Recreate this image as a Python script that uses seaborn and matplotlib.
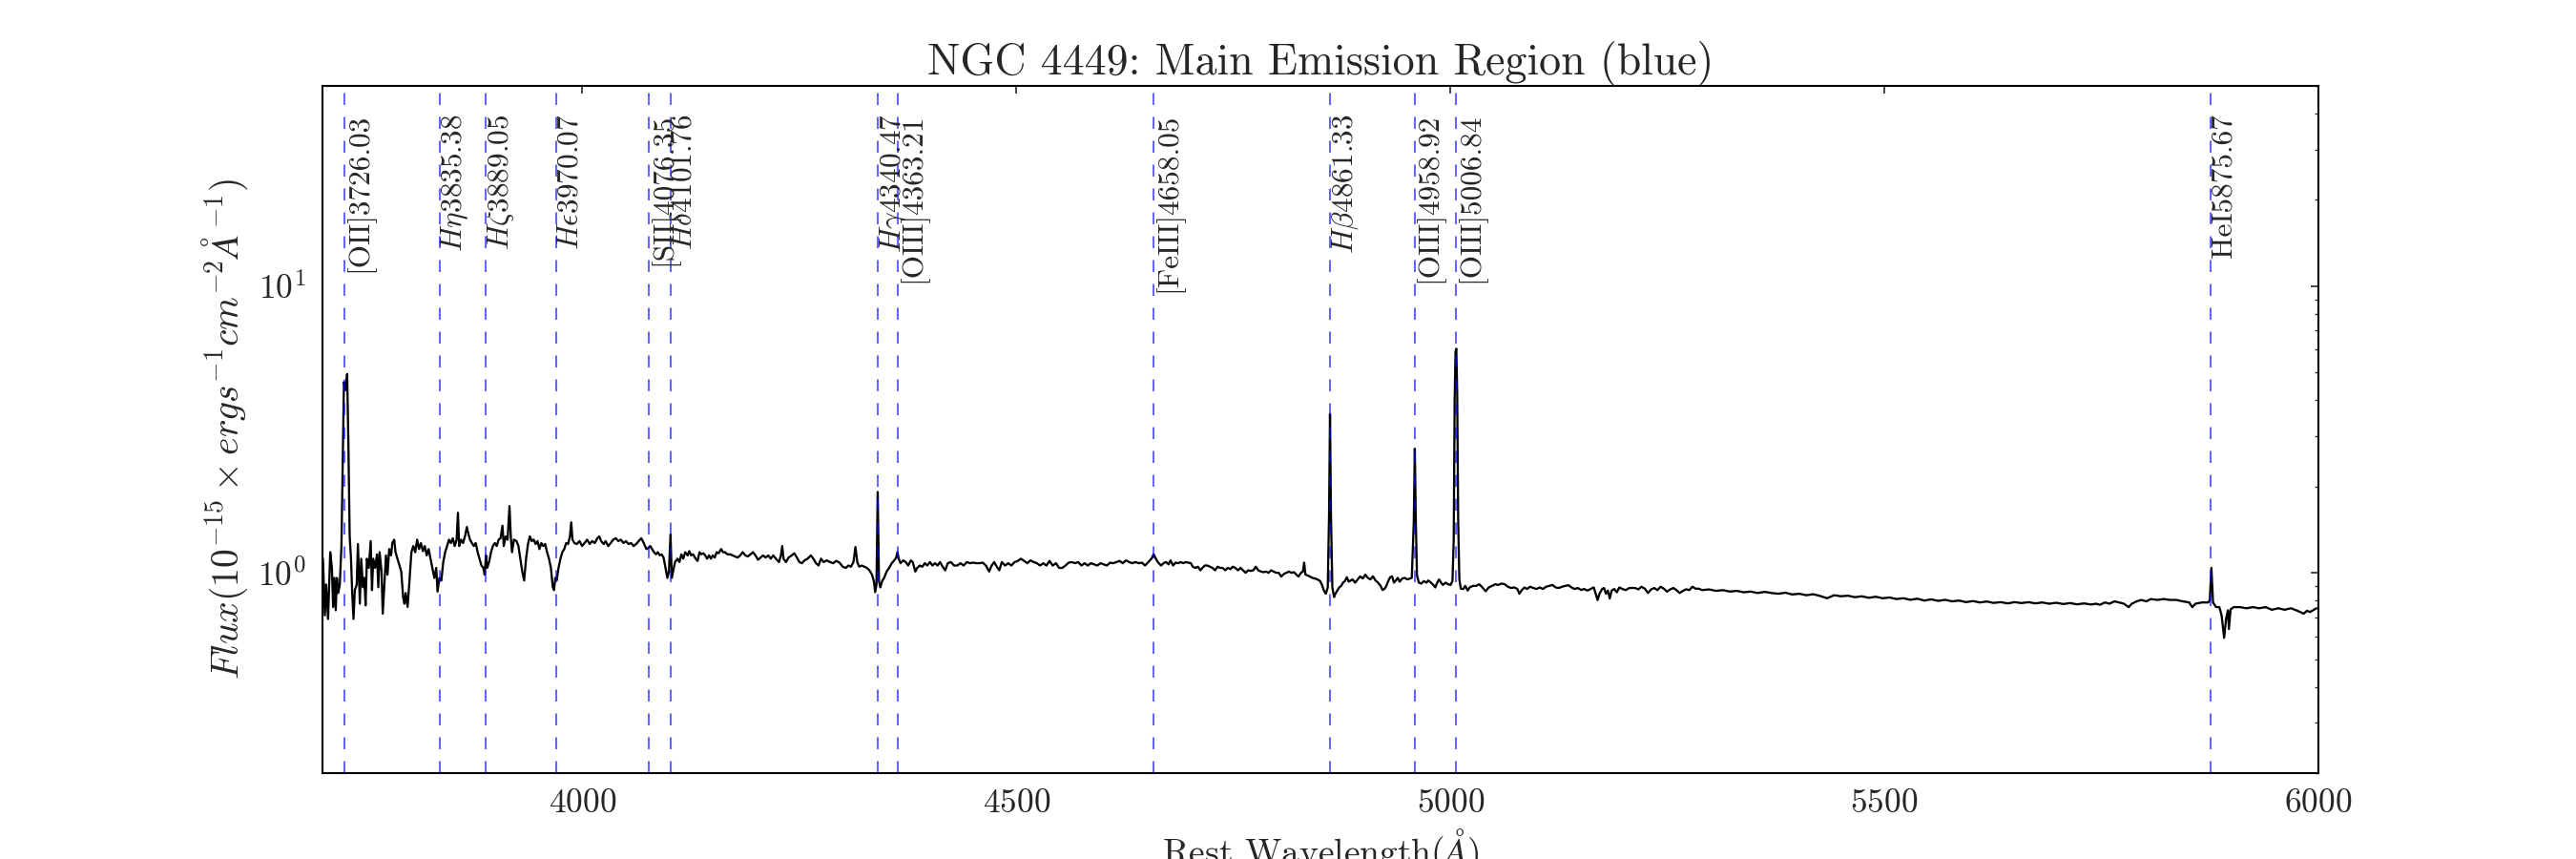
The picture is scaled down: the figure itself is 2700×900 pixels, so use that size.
import numpy as np
import pandas as pd
import matplotlib
matplotlib.use("Agg")
import matplotlib.pyplot as plt
import matplotlib.ticker as mticker
import seaborn as sns

# spectrum, split in pieces (rest wavelength in A, flux in 1e-15 units)
wave_a = [3700.0, 3701.1, 3703.3, 3704.8, 3707.0, 3709.5, 3711.4, 3712.8, 3714.3, 3715.8,
          3717.2, 3718.7, 3720.5, 3722.4, 3724.2, 3725.3, 3727.1, 3729.0, 3730.4, 3731.9,
          3733.4, 3734.8, 3736.3, 3737.8, 3740.0, 3741.4, 3743.6, 3745.1, 3747.3, 3748.8,
          3750.2, 3751.7, 3753.9, 3756.1, 3757.6, 3759.0, 3761.2, 3763.4, 3764.9, 3766.4,
          3768.6, 3770.0, 3772.2, 3773.7, 3775.5, 3777.4, 3779.6, 3781.0, 3783.2, 3784.7,
          3786.9, 3789.1, 3791.3, 3793.5, 3795.0, 3796.4, 3798.6, 3800.8, 3803.0, 3805.2,
          3807.4, 3809.6, 3811.8, 3814.0, 3816.2, 3818.4, 3820.6, 3822.8, 3825.0, 3827.2,
          3829.4, 3831.6, 3833.1, 3835.3, 3837.5, 3839.7, 3841.9, 3844.1, 3846.3, 3848.5,
          3850.7, 3852.9, 3855.1, 3856.6, 3858.0, 3860.2, 3862.5, 3864.7, 3866.9, 3868.3,
          3870.5, 3872.7, 3874.9, 3877.1, 3879.3, 3881.5, 3883.7, 3885.9, 3887.4, 3888.9,
          3890.3, 3892.5, 3894.7, 3896.9, 3899.1, 3901.3, 3903.5, 3905.7, 3907.9, 3909.4,
          3911.6, 3913.8, 3916.0, 3917.5, 3918.9, 3921.1, 3924.1, 3926.3, 3928.5, 3930.7,
          3932.9, 3935.1, 3937.3, 3939.5, 3941.7, 3943.9, 3946.1, 3948.3, 3950.5, 3952.7,
          3954.9, 3957.1, 3959.3, 3961.5, 3963.7, 3965.9, 3967.3, 3968.8, 3970.3, 3972.5,
          3974.7, 3976.9, 3979.1, 3981.3, 3983.5, 3985.7, 3987.1, 3988.6, 3990.8, 3993.7,
          3996.7, 3999.6, 4002.5, 4005.5, 4008.4, 4011.3, 4014.3, 4017.2, 4019.4, 4021.6,
          4024.5, 4026.7, 4029.7, 4032.6, 4035.5, 4038.5, 4041.4, 4044.3, 4047.3, 4050.2,
          4053.1, 4056.1, 4059.0, 4061.9, 4064.9, 4067.8, 4070.7, 4073.7, 4075.9, 4078.1,
          4080.3, 4082.5, 4084.7, 4086.9, 4089.1, 4091.3, 4093.5, 4095.7, 4097.9, 4099.7,
          4101.5, 4103.0, 4104.5, 4106.7, 4109.6, 4111.8, 4114.0, 4116.2, 4118.4, 4121.3]
flux_a = [0.61, 1.12, 0.71, 0.91, 0.69, 1.18, 1.04, 0.76, 0.96, 0.74,
          0.96, 0.85, 0.91, 1.24, 2.81, 4.63, 4.34, 4.94, 2.81, 1.34,
          1.12, 0.85, 0.69, 0.87, 0.91, 1.26, 0.78, 1.12, 0.89, 0.96,
          0.77, 1.12, 1.04, 1.29, 0.87, 1.12, 1.04, 1.16, 0.89, 1.18,
          1.01, 0.72, 0.96, 1.15, 0.985, 1.21, 1.15, 1.27, 1.305, 1.18,
          1.12, 1.06, 1.01, 0.82, 0.78, 0.85, 0.76, 0.94, 1.18, 1.24,
          1.18, 1.305, 1.21, 1.27, 1.19, 1.24, 1.15, 1.21, 1.12, 1.04,
          0.96, 1.04, 0.86, 0.96, 0.94, 1.09, 1.18, 1.24, 1.305, 1.27,
          1.32, 1.24, 1.305, 1.62, 1.24, 1.305, 1.27, 1.34, 1.445, 1.38,
          1.305, 1.27, 1.24, 1.27, 1.18, 1.12, 1.06, 1.04, 0.985, 1.15,
          1.04, 1.09, 1.18, 1.24, 1.27, 1.24, 1.305, 1.32, 1.46, 1.24,
          1.34, 1.305, 1.71, 1.34, 1.18, 1.305, 1.29, 1.24, 1.12, 1.01,
          0.94, 1.12, 1.26, 1.34, 1.29, 1.305, 1.26, 1.29, 1.21, 1.27,
          1.24, 1.26, 1.18, 1.12, 1.04, 0.89, 0.87, 0.96, 0.94, 1.04,
          1.12, 1.18, 1.21, 1.27, 1.26, 1.34, 1.50, 1.305, 1.27, 1.26,
          1.29, 1.24, 1.27, 1.305, 1.26, 1.29, 1.27, 1.32, 1.34, 1.29,
          1.26, 1.29, 1.24, 1.27, 1.305, 1.32, 1.29, 1.305, 1.27, 1.29,
          1.26, 1.27, 1.24, 1.26, 1.29, 1.32, 1.27, 1.21, 1.22, 1.24,
          1.21, 1.18, 1.16, 1.18, 1.15, 1.16, 1.13, 1.04, 0.96, 1.01,
          1.36, 0.96, 1.01, 1.09, 1.12, 1.09, 1.16, 1.12, 1.18, 1.15]

wave_b = [4123.1, 4125.3, 4127.5, 4130.5, 4132.7, 4134.9, 4137.1, 4139.3, 4141.5, 4143.7,
          4145.9, 4148.1, 4150.3, 4152.5, 4154.7, 4156.9, 4159.8, 4162.0, 4164.2, 4167.1,
          4170.1, 4173.0, 4175.9, 4178.9, 4181.8, 4184.7, 4187.7, 4190.6, 4193.5, 4196.5,
          4199.4, 4202.3, 4205.3, 4208.2, 4211.1, 4214.1, 4217.0, 4219.9, 4222.9, 4226.5,
          4228.7, 4230.2, 4231.7, 4234.6, 4237.5, 4241.2, 4244.1, 4247.1, 4250.0, 4252.9,
          4255.9, 4259.5, 4263.2, 4266.1, 4269.1, 4272.0, 4274.9, 4277.9, 4281.5, 4285.2,
          4288.9, 4292.5, 4296.2, 4299.9, 4303.5, 4306.5, 4309.4, 4312.3, 4314.5, 4316.7,
          4318.9, 4321.9, 4324.8, 4327.8, 4330.7, 4333.6, 4335.8, 4337.3, 4338.8, 4340.2,
          4341.7, 4343.2, 4345.4, 4347.6, 4350.5, 4353.4, 4356.4, 4359.3, 4361.5, 4363.0,
          4364.4, 4366.6, 4369.6, 4372.5, 4375.4, 4378.4, 4380.6, 4383.5, 4385.7, 4388.6,
          4391.6, 4394.5, 4397.4, 4400.4, 4403.3, 4406.2, 4409.2, 4412.1, 4415.0, 4418.0,
          4420.9, 4424.6, 4428.2, 4431.9, 4435.6, 4439.2, 4442.9, 4446.6, 4450.2, 4453.9,
          4457.6, 4461.2, 4464.9, 4468.6, 4471.5, 4474.4, 4477.4, 4480.3, 4483.2, 4486.9,
          4490.6, 4494.2, 4497.9, 4501.6, 4505.2, 4508.9, 4512.6, 4516.2, 4519.9, 4523.6,
          4527.2, 4530.9, 4534.6, 4538.2, 4541.9, 4545.6, 4549.2, 4552.9, 4556.6, 4560.2,
          4563.9, 4567.6, 4571.2, 4574.9, 4578.6, 4582.2, 4585.9, 4589.6, 4593.2, 4596.9,
          4600.6, 4604.2, 4607.9, 4611.6, 4615.2, 4618.9, 4622.6, 4626.2, 4629.9, 4633.6,
          4637.2, 4640.9, 4644.6, 4648.2, 4651.9, 4655.6, 4658.1, 4660.7, 4662.9, 4666.6]
flux_b = [1.19, 1.15, 1.16, 1.12, 1.10, 1.18, 1.16, 1.17, 1.15, 1.12,
          1.15, 1.12, 1.15, 1.13, 1.18, 1.17, 1.21, 1.18, 1.18, 1.16,
          1.16, 1.15, 1.14, 1.13, 1.15, 1.18, 1.15, 1.14, 1.16, 1.18,
          1.15, 1.11, 1.13, 1.15, 1.13, 1.15, 1.12, 1.15, 1.12, 1.09,
          1.15, 1.24, 1.12, 1.09, 1.13, 1.15, 1.17, 1.13, 1.09, 1.08,
          1.105, 1.12, 1.15, 1.12, 1.08, 1.06, 1.12, 1.09, 1.105, 1.09,
          1.08, 1.10, 1.085, 1.05, 1.04, 1.06, 1.05, 1.09, 1.23, 1.09,
          1.05, 1.06, 1.05, 1.04, 1.02, 0.985, 0.936, 0.856, 0.91, 1.915,
          0.936, 0.889, 0.936, 0.96, 1.01, 1.04, 1.08, 1.105, 1.13, 1.18,
          1.12, 1.08, 1.105, 1.09, 1.06, 1.105, 1.09, 1.01, 1.04, 1.06,
          1.05, 1.08, 1.06, 1.09, 1.06, 1.08, 1.06, 1.09, 1.05, 1.02,
          1.08, 1.09, 1.06, 1.06, 1.08, 1.06, 1.09, 1.08, 1.085, 1.08,
          1.08, 1.085, 1.06, 1.01, 1.06, 1.09, 1.05, 1.02, 1.09, 1.06,
          1.08, 1.06, 1.09, 1.10, 1.12, 1.10, 1.08, 1.105, 1.09, 1.08,
          1.06, 1.08, 1.06, 1.10, 1.06, 1.08, 1.04, 1.04, 1.06, 1.085,
          1.09, 1.08, 1.09, 1.06, 1.08, 1.06, 1.08, 1.07, 1.06, 1.08,
          1.07, 1.06, 1.085, 1.08, 1.09, 1.10, 1.08, 1.105, 1.09, 1.08,
          1.09, 1.08, 1.085, 1.06, 1.09, 1.12, 1.16, 1.12, 1.09, 1.06]

wave_c = [4669.5, 4672.4, 4675.3, 4677.5, 4680.5, 4683.4, 4686.3, 4689.3, 4692.2, 4695.1,
          4698.1, 4701.0, 4703.2, 4706.1, 4709.1, 4712.0, 4714.2, 4717.1, 4720.1, 4723.0,
          4725.9, 4728.9, 4731.8, 4734.7, 4737.7, 4740.6, 4743.5, 4746.5, 4749.4, 4752.3,
          4755.3, 4758.2, 4761.1, 4764.1, 4767.0, 4769.9, 4772.9, 4775.8, 4778.7, 4781.7,
          4784.6, 4787.5, 4790.5, 4793.4, 4796.3, 4799.3, 4802.2, 4805.1, 4808.1, 4811.0,
          4813.9, 4816.9, 4819.8, 4822.7, 4824.9, 4827.9, 4830.1, 4831.5, 4833.0, 4835.2,
          4838.1, 4841.1, 4844.0, 4846.9, 4849.9, 4852.1, 4854.3, 4856.5, 4858.7, 4860.2,
          4861.3, 4862.4, 4864.0, 4866.0, 4867.5, 4869.7, 4871.9, 4874.1, 4876.3, 4878.5,
          4880.7, 4882.9, 4885.1, 4887.3, 4890.2, 4893.2, 4896.1, 4899.0, 4902.0, 4904.9,
          4907.8, 4910.8, 4913.7, 4916.6, 4919.6, 4921.8, 4924.0, 4926.2, 4928.4, 4930.6,
          4932.8, 4935.0, 4937.2, 4939.4, 4941.6, 4944.5, 4947.4, 4950.4, 4953.3, 4955.5,
          4957.8, 4959.0, 4960.2, 4961.5, 4963.6, 4966.5, 4969.4, 4972.4, 4974.6, 4977.5,
          4980.4, 4982.6, 4984.8, 4987.0, 4989.2, 4991.4, 4994.4, 4997.3, 5000.2, 5002.4,
          5003.8, 5004.9, 5005.9, 5006.8, 5007.8, 5009.0, 5010.3, 5012.0, 5014.9, 5017.1,
          5020.0, 5022.2, 5025.9, 5029.6, 5033.2, 5036.9, 5040.6, 5044.2, 5047.9, 5051.6,
          5055.2, 5058.9, 5062.6, 5066.2, 5069.9, 5073.6, 5077.2, 5079.4, 5082.4, 5085.3,
          5088.2, 5091.9, 5095.6, 5099.2, 5102.9, 5106.6, 5110.2, 5113.9, 5117.6, 5121.2,
          5124.9, 5128.6, 5132.2, 5135.9, 5139.6, 5143.2, 5146.9, 5150.6, 5154.2, 5157.9,
          5161.6, 5165.2, 5167.4, 5169.6, 5171.8, 5174.8, 5177.0, 5179.2, 5181.4, 5183.6,
          5185.8, 5188.7, 5191.7, 5194.6, 5198.2]
flux_c = [1.08, 1.09, 1.07, 1.105, 1.06, 1.085, 1.08, 1.09, 1.08, 1.09,
          1.085, 1.08, 1.05, 1.04, 1.05, 1.02, 1.04, 1.06, 1.06, 1.05,
          1.04, 1.02, 1.05, 1.04, 1.04, 1.02, 1.04, 1.03, 1.05, 1.04,
          1.02, 1.04, 1.02, 1.00, 1.02, 1.015, 1.02, 1.05, 1.02, 1.01,
          1.005, 1.01, 1.00, 1.02, 1.01, 1.00, 1.00, 0.97, 0.99, 1.00,
          1.01, 1.00, 1.005, 0.985, 0.97, 1.00, 1.01, 1.085, 0.985, 0.98,
          0.97, 0.96, 0.955, 0.948, 0.936, 0.907, 0.867, 0.845, 0.889, 1.6,
          3.58, 1.6, 0.889, 0.823, 0.845, 0.867, 0.889, 0.90, 0.924, 0.936,
          0.965, 0.931, 0.94, 0.948, 0.924, 0.948, 0.972, 0.955, 0.985, 0.96,
          0.948, 0.972, 0.94, 0.924, 0.90, 0.871, 0.878, 0.90, 0.936, 0.965,
          0.972, 0.924, 0.94, 0.96, 0.931, 0.955, 0.96, 0.948, 0.955, 0.96,
          1.5, 2.71, 1.5, 0.98, 0.924, 0.917, 0.936, 0.924, 0.94, 0.924,
          0.907, 0.889, 0.924, 0.948, 0.924, 0.907, 0.924, 0.912, 0.907, 0.936,
          1.3, 4.0, 5.9, 6.05, 4.3, 1.5, 0.95, 0.88, 0.878, 0.90,
          0.867, 0.889, 0.90, 0.90, 0.912, 0.889, 0.862, 0.889, 0.90, 0.912,
          0.907, 0.917, 0.912, 0.894, 0.885, 0.889, 0.878, 0.845, 0.871, 0.889,
          0.878, 0.894, 0.885, 0.878, 0.889, 0.878, 0.894, 0.90, 0.907, 0.889,
          0.885, 0.894, 0.90, 0.905, 0.889, 0.878, 0.885, 0.871, 0.878, 0.867,
          0.878, 0.889, 0.845, 0.803, 0.845, 0.878, 0.885, 0.845, 0.867, 0.813,
          0.867, 0.878, 0.855, 0.889, 0.878]

wave_d = [5202.0, 5206.0, 5212.9, 5216.5, 5220.2, 5224.0, 5227.6, 5231.2, 5234.9, 5238.5,
          5242.2, 5246.0, 5249.6, 5253.2, 5256.9, 5260.5, 5264.2, 5268.0, 5271.6, 5275.2,
          5278.9, 5282.5, 5286.2, 5290.0, 5298.0, 5306.0, 5314.0, 5322.0, 5330.0, 5338.0,
          5346.0, 5354.0, 5362.0, 5370.0, 5378.0, 5386.0, 5394.0, 5402.0, 5410.0, 5418.0,
          5426.0, 5434.0, 5442.0, 5450.0, 5458.0, 5466.0, 5474.0, 5482.0, 5490.0, 5498.0,
          5506.0, 5514.0, 5522.0, 5530.0, 5538.0, 5546.0, 5554.0, 5562.0, 5570.0, 5578.0,
          5586.0, 5594.0, 5602.0, 5610.0, 5618.0, 5626.0, 5634.0, 5642.0, 5650.0, 5658.0,
          5666.0, 5674.0, 5682.0, 5690.0, 5698.0, 5706.0, 5714.0, 5722.0, 5730.0, 5738.0,
          5744.0]
flux_d = [0.87, 0.885, 0.885, 0.875, 0.894, 0.88, 0.85, 0.875, 0.885, 0.87,
          0.894, 0.88, 0.859, 0.875, 0.885, 0.87, 0.85, 0.865, 0.876, 0.87,
          0.894, 0.88, 0.88, 0.87, 0.875, 0.865, 0.87, 0.86, 0.865, 0.855,
          0.86, 0.85, 0.858, 0.85, 0.845, 0.852, 0.84, 0.845, 0.835, 0.842,
          0.83, 0.815, 0.835, 0.828, 0.832, 0.822, 0.828, 0.818, 0.825, 0.815,
          0.82, 0.81, 0.815, 0.805, 0.812, 0.80, 0.808, 0.798, 0.805, 0.795,
          0.80, 0.79, 0.797, 0.788, 0.794, 0.785, 0.79, 0.782, 0.79, 0.784,
          0.79, 0.782, 0.788, 0.78, 0.786, 0.778, 0.784, 0.776, 0.782, 0.775,
          0.78]

wave_e = [5748.4, 5753.9, 5759.4, 5764.9, 5770.4, 5775.9, 5781.4, 5785.1, 5790.6, 5796.1,
          5801.6, 5807.1, 5814.4, 5821.7, 5829.1, 5836.4, 5843.7, 5851.1, 5854.7, 5858.4,
          5865.7, 5873.1, 5874.9, 5876.7, 5878.6, 5882.2, 5885.9, 5888.5, 5891.4, 5893.6,
          5895.8, 5896.9, 5898.8, 5902.4, 5909.7, 5917.1, 5924.4, 5931.7, 5939.1, 5946.4,
          5953.8, 5961.1, 5968.4, 5975.8, 5983.1, 5986.8, 5990.4, 5997.8]
flux_e = [0.773, 0.788, 0.78, 0.795, 0.788, 0.78, 0.759, 0.78, 0.795, 0.804,
          0.795, 0.81, 0.804, 0.81, 0.804, 0.804, 0.795, 0.788, 0.759, 0.78,
          0.788, 0.788, 0.804, 1.04, 0.788, 0.759, 0.759, 0.71, 0.593, 0.69,
          0.74, 0.636, 0.745, 0.759, 0.759, 0.752, 0.759, 0.752, 0.759, 0.743,
          0.752, 0.743, 0.752, 0.737, 0.72, 0.737, 0.73, 0.752]

# emission lines marked on the plot
line_waves = [3726.03, 3835.38, 3889.05, 3970.07, 4076.35, 4101.76, 4340.47,
              4363.21, 4658.05, 4861.33, 4958.92, 5006.84, 5875.67]
line_names = ['[OII]', r'$H\eta$', r'$H\zeta$', r'$H\epsilon$', '[SII]', r'$H\delta$',
              r'$H\gamma$', '[OIII]', '[FeIII]', r'$H\beta$', '[OIII]', '[OIII]', 'HeI']

spec = pd.DataFrame({'wave': wave_a + wave_b + wave_c + wave_d + wave_e,
                     'flux': flux_a + flux_b + flux_c + flux_d + flux_e})

sns.set_style('white')
plt.rcParams.update({
    'font.family': 'serif',
    'font.serif': ['cmr10', 'DejaVu Serif'],
    'mathtext.fontset': 'cm',
    'axes.unicode_minus': False,
    'axes.formatter.use_mathtext': True,
    'xtick.direction': 'in', 'ytick.direction': 'in',
    'xtick.top': True, 'ytick.right': True,
    'xtick.major.size': 4, 'ytick.major.size': 4,
    'xtick.minor.size': 2, 'ytick.minor.size': 2,
    'axes.linewidth': 1.0,
    'axes.edgecolor': 'black',
    'lines.dashed_pattern': [6, 6],
})

fig, ax = plt.subplots(figsize=(18, 6), dpi=150)
fig.subplots_adjust(left=0.125, right=0.9, bottom=0.1, top=0.9)

sns.lineplot(data=spec, x='wave', y='flux', ax=ax, color='k', lw=1.1,
             estimator=None, sort=False)
ax.set_yscale('log')
ax.set_xlim(3700, 6000)
ax.set_ylim(0.2, 50)

for w, name in zip(line_waves, line_names):
    ax.axvline(w, color='b', ls='--', lw=1.0, alpha=0.6)
    ax.text(w, 40, name + '%.2f' % w, rotation=90, ha='left', va='top', fontsize=15)

ax.xaxis.set_major_locator(mticker.MultipleLocator(500))
ax.yaxis.set_minor_formatter(mticker.NullFormatter())
ax.tick_params(axis='both', which='major', labelsize=17, pad=8)
for s in ax.spines.values():
    s.set_visible(True)

ax.set_title('NGC 4449: Main Emission Region (blue)', fontsize=22)
ax.set_xlabel(r'Rest Wavelength$(\AA)$', fontsize=18)
ax.set_ylabel(r'$Flux(10^{-15} \times ergs^{-1}cm^{-2}\AA^{-1})$', fontsize=19)

fig.savefig('out.png', dpi=150)
